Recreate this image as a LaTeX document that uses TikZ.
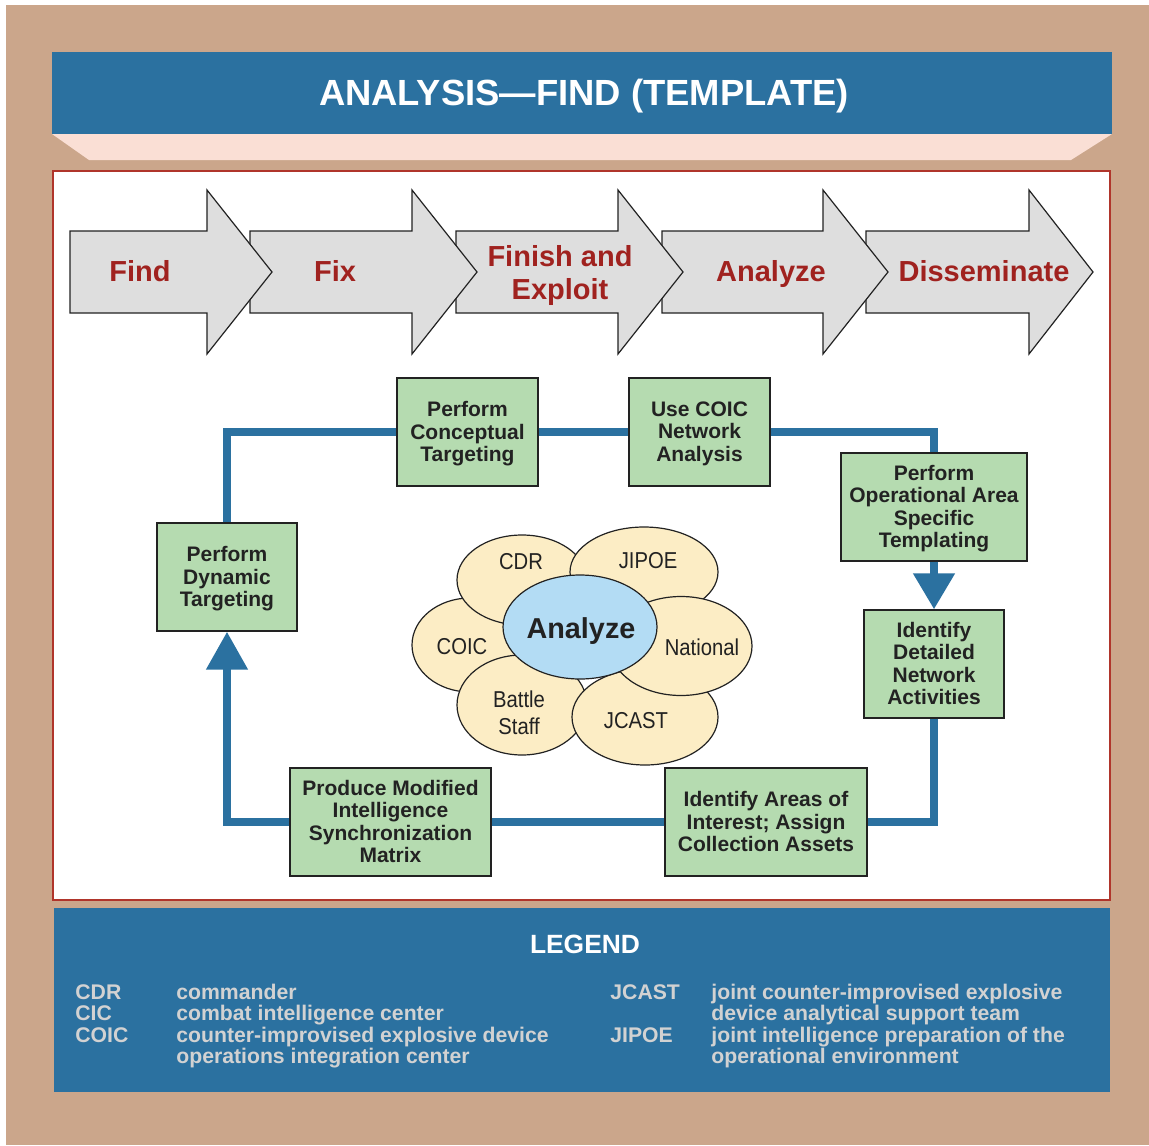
\documentclass[tikz,border=0pt]{standalone}
\usepackage{fontspec}
\setmainfont{Liberation Sans}
\newfontfamily\narrowfont[FakeStretch=0.88]{Liberation Sans}
\usetikzlibrary{arrows.meta,shapes.geometric}
\definecolor{tanbg}{HTML}{CBA68B}
\definecolor{hblue}{HTML}{2B71A0}
\definecolor{pinkband}{HTML}{FADFD5}
\definecolor{panelred}{HTML}{B0352B}
\definecolor{chevfill}{HTML}{DEDEDE}
\definecolor{chevtext}{HTML}{A0221F}
\definecolor{boxgreen}{HTML}{B5DBB0}
\definecolor{petal}{HTML}{FCEDC5}
\definecolor{core}{HTML}{B3DCF4}
\definecolor{legtext}{HTML}{D2D2D2}
\definecolor{ink}{HTML}{222222}
\begin{document}
\begin{tikzpicture}[x=0.5pt,y=-0.5pt,
 chev/.style={fill=chevfill,draw=ink,line width=0.6pt,line join=miter},
 chevlabel/.style={text=chevtext,font=\bfseries\fontsize{14.5}{16.5}\selectfont,align=center,inner sep=0pt,text height=10.4pt,text depth=0pt},
 stepbox/.style={rectangle,draw=ink,line width=0.7pt,fill=boxgreen,inner sep=0pt,align=center,font=\bfseries\fontsize{10.5}{11.3}\selectfont,text=ink,text depth=0.6pt},
 conn/.style={draw=hblue,line width=4pt},
 tipdown/.style={-{Triangle[width=20pt,length=18pt]}},
 tipup/.style={-{Triangle[width=20pt,length=19pt]}},
 petalshape/.style={ellipse,draw=ink,line width=0.6pt,fill=petal,inner sep=0pt},
 petaltext/.style={font=\narrowfont\fontsize{11.5}{13.5}\selectfont,text=ink,align=center,inner sep=0pt},
 legtxt/.style={anchor=base west,text=legtext,font=\bfseries\fontsize{10.6}{10.8}\selectfont,inner sep=0pt},
]
\useasboundingbox (0,0) rectangle (1149,1145);
% background frame
\fill[tanbg] (6,5) rectangle (1149,1145);
\fill[hblue] (52,52) rectangle (1112,134);
\fill[pinkband] (52,134) -- (1112,134) -- (1071,160) -- (89,160) -- cycle;
\node[text=white,font=\bfseries\fontsize{18.2}{20}\selectfont,text height=13pt,text depth=0pt] (title) at (584,92) {ANALYSIS---FIND (TEMPLATE)};
\draw[draw=panelred,line width=0.6pt,fill=white] (53,171) rectangle (1110,900);
\fill[hblue] (54,908) rectangle (1110,1092);

% chevrons (right to left so earlier ones lie on top)
\foreach \L/\H/\T in {866/1029/1093, 662/823/888, 456/618/683, 250/412/477, 70/207/272}
  \draw[chev] (\L,231) -- (\H,231) -- (\H,190) -- (\T,272) -- (\H,354) -- (\H,313) -- (\L,313) -- cycle;
\node[chevlabel] (cfind) at (140,271) {Find};
\node[chevlabel] (cfix) at (335,271) {Fix};
\node[chevlabel] (cfinish) at (560,289) {Finish and\\Exploit};
\node[chevlabel] (canalyze) at (771,271) {Analyze};
\node[chevlabel] (cdissem) at (984,271) {Disseminate};

% process boxes
\node[stepbox,minimum width=70.5pt,minimum height=54pt] (conc) at (467.5,432) {Perform\\Conceptual\\Targeting};
\node[stepbox,minimum width=70.5pt,minimum height=54pt] (coic) at (699.5,432) {Use COIC\\Network\\Analysis};
\node[stepbox,minimum width=93pt,minimum height=54pt] (oper) at (934,507) {Perform\\Operational Area\\Specific\\Templating};
\node[stepbox,minimum width=70pt,minimum height=54pt] (ident) at (934,664) {Identify\\Detailed\\Network\\Activities};
\node[stepbox,minimum width=101pt,minimum height=54pt] (areas) at (766,822) {Identify Areas of\\Interest; Assign\\Collection Assets};
\node[stepbox,minimum width=100.5pt,minimum height=54pt] (prod) at (390.5,822) {Produce Modified\\Intelligence\\Synchronization\\Matrix};
\node[stepbox,minimum width=70pt,minimum height=54pt] (dyn) at (227,577) {Perform\\Dynamic\\Targeting};

% connectors
\draw[conn] (dyn.north) |- (conc.west);
\draw[conn] (conc.east) -- (coic.west);
\draw[conn] (coic.east) -| (oper.north);
\draw[conn,tipdown] (oper.south) -- (ident.north);
\draw[conn] (ident.south) |- (areas.east);
\draw[conn] (areas.west) -- (prod.east);
\draw[conn,tipup] (prod.west) -| (dyn.south);

% flower
\node[petalshape,minimum width=58pt,minimum height=47pt] (pcoic) at (470,645) {};
\node[petalshape,minimum width=65pt,minimum height=50pt] (pbattle) at (522,705) {};
\node[petalshape,minimum width=73pt,minimum height=48pt] (pjcast) at (645,717) {};
\node[petalshape,minimum width=65pt,minimum height=45pt] (pcdr) at (522,580) {};
\node[petalshape,minimum width=74pt,minimum height=45pt] (pjipoe) at (644,572) {};
\node[petalshape,minimum width=71pt,minimum height=49.5pt] (pnational) at (681,646) {};
\node[ellipse,draw=ink,line width=0.6pt,fill=core,inner sep=0pt,minimum width=77pt,minimum height=52pt] (pcore) at (580,627) {};
\node[font=\bfseries\fontsize{14.4}{16}\selectfont,text=ink,inner sep=0pt,text height=10.3pt,text depth=0pt] (tcore) at (581,628) {Analyze};
\node[petaltext] (tcdr) at (521,562) {CDR};
\node[petaltext] (tjipoe) at (648,561) {JIPOE};
\node[petaltext] (tcoic) at (462,647) {COIC};
\node[petaltext] (tnational) at (702,647) {National};
\node[petaltext] (tbattle) at (519,713) {Battle\\Staff};
\node[petaltext] (tjcast) at (636,721) {JCAST};

% legend
\node[text=white,font=\bfseries\fontsize{13.2}{15}\selectfont] (legend) at (585,944) {LEGEND};
\node[legtxt] (la1) at (75,999) {CDR};
\node[legtxt] (la2) at (75,1020.5) {CIC};
\node[legtxt] (la3) at (75,1042) {COIC};
\node[legtxt] (ld1) at (176,999) {commander};
\node[legtxt] (ld2) at (176,1020.5) {combat intelligence center};
\node[legtxt] (ld3) at (176,1042) {counter-improvised explosive device};
\node[legtxt] (ld4) at (176,1063.5) {operations integration center};
\node[legtxt] (lb1) at (610,999) {JCAST};
\node[legtxt] (lb2) at (610,1042) {JIPOE};
\node[legtxt] (le1) at (711,999) {joint counter-improvised explosive};
\node[legtxt] (le2) at (711,1020.5) {device analytical support team};
\node[legtxt] (le3) at (711,1042) {joint intelligence preparation of the};
\node[legtxt] (le4) at (711,1063.5) {operational environment};
\end{tikzpicture}
\end{document}
